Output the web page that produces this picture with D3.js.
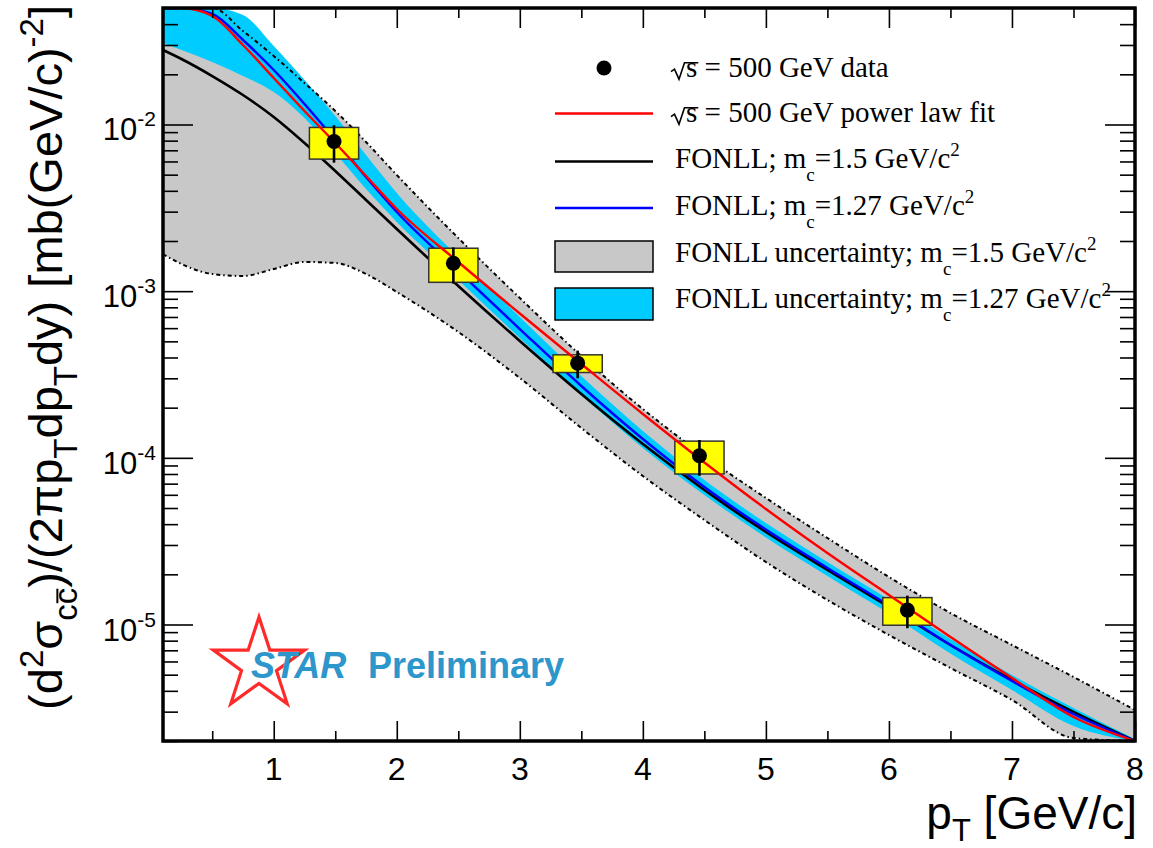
<!DOCTYPE html>
<html>
<head>
<meta charset="utf-8">
<script src="https://cdn.jsdelivr.net/npm/d3@7"></script>
<style>
  html, body { margin: 0; padding: 0; background: #fff; }
  svg { display: block; }
</style>
</head>
<body>
<svg id="chart" width="1153" height="848"></svg>
<script>
// pT grid (GeV/c) on which the curves and bands are tabulated
const pT = [0.1, 0.25, 0.5, 0.75, 1, 1.25, 1.5, 1.75, 2, 2.5, 3, 3.5, 4, 4.5, 5, 5.5, 6, 6.5, 7, 7.5, 8];

// power-law fit to the sqrt(s) = 500 GeV points
const powerLawFit = [0.1, 0.06, 0.04477, 0.02999, 0.01901, 0.01205, 0.007745, 0.004909, 0.003112, 1.496e-3,
  7.345e-4, 3.656e-4, 1.832e-4, 9.376e-5, 4.932e-5, 2.685e-5, 1.503e-5, 8.414e-6, 4.775e-6, 2.786e-6, 1.648e-6];

// FONLL central values, m_c = 1.5 and 1.27 GeV/c^2
const fonll15 = [0.02799, 0.02472, 0.01954, 0.01503, 0.01109, 0.007745, 0.005260, 0.003524, 0.002360, 1.074e-3,
  5.023e-4, 2.415e-4, 1.211e-4, 6.412e-5, 3.589e-5, 2.123e-5, 1.274e-5, 7.534e-6, 4.645e-6, 2.985e-6, 1.972e-6];
const fonll127 = [0.1, 0.065, 0.04603, 0.03214, 0.02123, 0.01327, 0.008072, 0.004842, 0.002985, 1.321e-3,
  5.929e-4, 2.698e-4, 1.297e-4, 6.683e-5, 3.715e-5, 2.183e-5, 1.300e-5, 7.534e-6, 4.581e-6, 2.904e-6, 1.892e-6];

// FONLL uncertainty bands
const fonll15Lo = [1.671e-3, 1.455e-3, 1.268e-3, 1.233e-3, 1.358e-3, 1.496e-3, 1.476e-3, 1.268e-3, 9.886e-4, 5.689e-4,
  3.013e-4, 1.510e-4, 7.780e-5, 4.236e-5, 2.371e-5, 1.403e-5, 8.650e-6, 5.483e-6, 3.524e-6, 2.084e-6, 1.340e-6];
const fonll15Hi = [0.12, 0.08, 0.05, 0.03639, 0.02576, 0.01774, 0.01205, 0.007852, 0.004977, 2.084e-3,
  9.099e-4, 4.083e-4, 1.963e-4, 1.026e-4, 5.741e-5, 3.304e-5, 1.928e-5, 1.172e-5, 7.534e-6, 4.842e-6, 3.069e-6];
const fonll127Lo = [0.03083, 0.02799, 0.02371, 0.01954, 0.01567, 0.01094, 0.006745, 0.004102, 0.002600, 1.167e-3,
  5.236e-4, 2.382e-4, 1.146e-4, 5.984e-5, 3.327e-5, 1.954e-5, 1.164e-5, 6.699e-6, 4.046e-6, 2.460e-6, 1.538e-6];
const fonll127Hi = [0.15, 0.12, 0.08, 0.04539, 0.02958, 0.01849, 0.01125, 0.006561, 0.003882, 1.603e-3,
  6.998e-4, 3.097e-4, 1.449e-4, 7.362e-5, 4.064e-5, 2.371e-5, 1.413e-5, 8.185e-6, 4.977e-6, 3.155e-6, 2.056e-6];

// measured points: pT, yield, statistical and systematic errors
const dataPt = [1.49, 2.46, 3.47, 4.46, 6.15];
const dataY = [7.9e-3, 1.47e-3, 3.70e-4, 1.03e-4, 1.22e-5];
const statErr = [2.0e-3, 3.6e-4, 7.0e-5, 2.5e-5, 2.7e-6];
const sysErr = [1.7e-3, 3.4e-4, 4.5e-5, 2.3e-5, 2.3e-6];
const binHalfWidth = 0.2;

// axis ticks
const xTickValues = [1, 2, 3, 4, 5, 6, 7, 8];
const xMinorValues = [0.5, 1.5, 2.5, 3.5, 4.5, 5.5, 6.5, 7.5];
const yExponents = [-2, -3, -4, -5];

const svg = d3.select('#chart');
const W = 1153, H = 848;
const plot = { left: 163, right: 1135, top: 8, bottom: 741 };

svg.append('rect').attr('width', W).attr('height', H).attr('fill', '#fff');

const x = d3.scaleLinear().domain([0.1, 8]).range([plot.left, plot.right]);
const y = d3.scaleLog().domain([2e-6, 0.05]).range([plot.bottom, plot.top]).clamp(true);

svg.append('clipPath').attr('id', 'plotClip')
  .append('rect')
  .attr('x', plot.left).attr('y', plot.top)
  .attr('width', plot.right - plot.left).attr('height', plot.bottom - plot.top);

const g = svg.append('g').attr('clip-path', 'url(#plotClip)');
const idx = d3.range(pT.length);

const band = (lo, hi) => d3.area()
  .x(i => x(pT[i])).y0(i => y(lo[i])).y1(i => y(hi[i]))
  .curve(d3.curveMonotoneX)(idx);
const curve = vals => d3.line()
  .x(i => x(pT[i])).y(i => y(vals[i]))
  .curve(d3.curveMonotoneX)(idx);

// uncertainty bands
g.append('path').attr('d', band(fonll15Lo, fonll15Hi)).attr('fill', '#c8c8c8');
g.append('path').attr('d', band(fonll127Lo, fonll127Hi)).attr('fill', '#00ccff');

// dash-dot edges of the m_c = 1.5 band
[fonll15Lo, fonll15Hi].forEach(v => {
  g.append('path').attr('d', curve(v)).attr('fill', 'none')
    .attr('stroke', '#000').attr('stroke-width', 2)
    .attr('stroke-dasharray', '4,3,1.5,3');
});

// FONLL central curves
g.append('path').attr('d', curve(fonll15)).attr('fill', 'none')
  .attr('stroke', '#000').attr('stroke-width', 2.6);
g.append('path').attr('d', curve(fonll127)).attr('fill', 'none')
  .attr('stroke', '#0000ff').attr('stroke-width', 2.4);

// systematic boxes
const dIdx = d3.range(dataPt.length);
g.selectAll('rect.sys').data(dIdx).enter().append('rect')
  .attr('class', 'sys')
  .attr('x', i => x(dataPt[i] - binHalfWidth))
  .attr('width', i => x(dataPt[i] + binHalfWidth) - x(dataPt[i] - binHalfWidth))
  .attr('y', i => y(dataY[i] + sysErr[i]))
  .attr('height', i => y(dataY[i] - sysErr[i]) - y(dataY[i] + sysErr[i]))
  .attr('fill', '#ffff00').attr('stroke', '#333').attr('stroke-width', 1.5);

// power-law fit
g.append('path').attr('d', curve(powerLawFit)).attr('fill', 'none')
  .attr('stroke', '#ff0000').attr('stroke-width', 2.4);

// statistical error bars and markers
g.selectAll('line.stat').data(dIdx).enter().append('line')
  .attr('x1', i => x(dataPt[i])).attr('x2', i => x(dataPt[i]))
  .attr('y1', i => y(dataY[i] + statErr[i])).attr('y2', i => y(dataY[i] - statErr[i]))
  .attr('stroke', '#000').attr('stroke-width', 2.6);
g.selectAll('circle.pt').data(dIdx).enter().append('circle')
  .attr('cx', i => x(dataPt[i])).attr('cy', i => y(dataY[i])).attr('r', 7.5)
  .attr('fill', '#000');

// ticks on all four sides
const yMajor = yExponents.map(e => Math.pow(10, e));
const yMinor = [];
for (let e = -6; e <= -2; e++) {
  for (let k = 2; k <= 9; k++) {
    const v = k * Math.pow(10, e);
    if (v >= 2e-6 && v <= 0.05) yMinor.push(v);
  }
}
const tickStyle = sel => {
  sel.select('.domain').remove();
  sel.selectAll('line').attr('stroke', '#000').attr('stroke-width', 1.6);
  sel.selectAll('text').remove();
};
const axes = svg.append('g');
axes.append('g').attr('transform', `translate(0,${plot.bottom})`)
  .call(d3.axisBottom(x).tickValues(xTickValues).tickSize(-20)).call(tickStyle);
axes.append('g').attr('transform', `translate(0,${plot.bottom})`)
  .call(d3.axisBottom(x).tickValues(xMinorValues).tickSize(-10)).call(tickStyle);
axes.append('g').attr('transform', `translate(0,${plot.top})`)
  .call(d3.axisTop(x).tickValues(xTickValues).tickSize(-20)).call(tickStyle);
axes.append('g').attr('transform', `translate(0,${plot.top})`)
  .call(d3.axisTop(x).tickValues(xMinorValues).tickSize(-10)).call(tickStyle);
axes.append('g').attr('transform', `translate(${plot.left},0)`)
  .call(d3.axisLeft(y).tickValues(yMajor).tickSize(-30)).call(tickStyle);
axes.append('g').attr('transform', `translate(${plot.left},0)`)
  .call(d3.axisLeft(y).tickValues(yMinor).tickSize(-15)).call(tickStyle);
axes.append('g').attr('transform', `translate(${plot.right},0)`)
  .call(d3.axisRight(y).tickValues(yMajor).tickSize(-30)).call(tickStyle);
axes.append('g').attr('transform', `translate(${plot.right},0)`)
  .call(d3.axisRight(y).tickValues(yMinor).tickSize(-15)).call(tickStyle);

// frame
svg.append('rect')
  .attr('x', plot.left).attr('y', plot.top)
  .attr('width', plot.right - plot.left).attr('height', plot.bottom - plot.top)
  .attr('fill', 'none').attr('stroke', '#000').attr('stroke-width', 3.5);

const SANS = "'Liberation Sans', Arial, Helvetica, sans-serif";
const SERIF = "'Liberation Serif', 'Times New Roman', serif";

// tick labels
svg.append('g').selectAll('text').data(xTickValues).enter().append('text')
  .attr('x', d => x(d)).attr('y', 780)
  .attr('text-anchor', 'middle')
  .attr('font-family', SANS).attr('font-size', 32).attr('fill', '#000')
  .text(d => d);

const yl = svg.append('g').selectAll('text').data(yExponents).enter().append('text')
  .attr('x', 156).attr('y', e => y(Math.pow(10, e)) + 16)
  .attr('text-anchor', 'end')
  .attr('font-family', SANS).attr('font-size', 31).attr('fill', '#000');
yl.append('tspan').text('10');
yl.append('tspan').attr('font-size', 21).attr('dy', -14).text(e => String(e));

// rich text helper: segments with optional sub/superscript
function rich(textSel, segs, subDy, supDy, smallSize) {
  let off = 0;
  segs.forEach(sg => {
    const target = sg.s === 'sub' ? subDy : sg.s === 'sup' ? supDy : 0;
    const ts = textSel.append('tspan').attr('dy', target - off).text(sg.t);
    if (sg.s) ts.attr('font-size', smallSize);
    off = target;
  });
}

// x-axis title
const xt = svg.append('text')
  .attr('x', 1137).attr('y', 829).attr('text-anchor', 'end')
  .attr('font-family', SANS).attr('font-size', 46).attr('fill', '#000');
rich(xt, [{ t: 'p' }, { t: 'T', s: 'sub' }, { t: ' [GeV/c]' }], 12, -18, 31);

// y-axis title
const ytG = svg.append('g').attr('transform', 'translate(62,5) rotate(-90)');
const yt = ytG.append('text')
  .attr('x', 0).attr('y', 0).attr('text-anchor', 'end')
  .attr('font-family', SANS).attr('font-size', 47).attr('fill', '#000');
rich(yt, [
  { t: '(d' }, { t: '2', s: 'sup' }, { t: 'σ' }, { t: 'cc', s: 'sub' },
  { t: ')/(2πp' }, { t: 'T', s: 'sub' }, { t: 'dp' }, { t: 'T', s: 'sub' },
  { t: 'dy) [mb(GeV/c)' }, { t: '-2', s: 'sup' }, { t: ']' }
], 15, -19, 33);
// bar over the anti-charm subscript
{
  const ext = yt.node().getExtentOfChar(5);
  const by = ext.y + ext.height * 0.28;
  ytG.append('line')
    .attr('x1', ext.x + 1).attr('x2', ext.x + ext.width - 1)
    .attr('y1', by).attr('y2', by)
    .attr('stroke', '#000').attr('stroke-width', 2);
}

// legend
const legend = svg.append('g');
const rowBase = [76.7, 121.7, 168.3, 215, 261.7, 308.3];
const LF = 29;
const symX0 = 555, symX1 = 653;

function sqrtRow(base, rest) {
  const sx = 686;
  const t = legend.append('text').attr('x', sx).attr('y', base)
    .attr('font-family', SERIF).attr('font-size', LF).attr('fill', '#000');
  t.append('tspan').text('s');
  t.append('tspan').text(rest);
  const sw = t.node().getSubStringLength(0, 1);
  legend.append('path')
    .attr('d', `M671,${base - 5} L674.5,${base - 7.5} L679,${base + 2.5} L684.5,${base - 14} L${sx + sw + 1},${base - 14}`)
    .attr('fill', 'none').attr('stroke', '#000').attr('stroke-width', 1.6);
}
function mcRow(base, prefix, mass) {
  const t = legend.append('text').attr('x', 675).attr('y', base)
    .attr('font-family', SERIF).attr('font-size', LF).attr('fill', '#000');
  rich(t, [{ t: prefix + 'm' }, { t: 'c', s: 'sub' }, { t: '=' + mass + ' GeV/c' }, { t: '2', s: 'sup' }], 13, -12, 19);
}

legend.append('circle').attr('cx', 604).attr('cy', 68).attr('r', 7.5).attr('fill', '#000');
sqrtRow(rowBase[0], ' = 500 GeV data');

legend.append('line').attr('x1', symX0).attr('x2', symX1).attr('y1', 113.5).attr('y2', 113.5)
  .attr('stroke', '#ff0000').attr('stroke-width', 2.4);
sqrtRow(rowBase[1], ' = 500 GeV power law fit');

legend.append('line').attr('x1', symX0).attr('x2', symX1).attr('y1', 161.5).attr('y2', 161.5)
  .attr('stroke', '#000').attr('stroke-width', 2.6);
mcRow(rowBase[2], 'FONLL; ', '1.5');

legend.append('line').attr('x1', symX0).attr('x2', symX1).attr('y1', 208).attr('y2', 208)
  .attr('stroke', '#0000ff').attr('stroke-width', 2.4);
mcRow(rowBase[3], 'FONLL; ', '1.27');

legend.append('rect').attr('x', symX0).attr('y', 241).attr('width', symX1 - symX0).attr('height', 31)
  .attr('fill', '#c8c8c8').attr('stroke', '#000').attr('stroke-width', 1.5);
mcRow(rowBase[4], 'FONLL uncertainty; ', '1.5');

legend.append('rect').attr('x', symX0).attr('y', 288).attr('width', symX1 - symX0).attr('height', 32)
  .attr('fill', '#00ccff').attr('stroke', '#000').attr('stroke-width', 1.5);
mcRow(rowBase[5], 'FONLL uncertainty; ', '1.27');

// STAR Preliminary logo
const star = svg.append('g');
const cx = 259, cy = 665, R = 48, r = 18.4;
const starPts = d3.range(10).map(k => {
  const a = -Math.PI / 2 + k * Math.PI / 5;
  const rad = k % 2 === 0 ? R : r;
  return [cx + rad * Math.cos(a), cy + rad * Math.sin(a)];
});
star.append('polygon').attr('points', starPts.map(p => p.join(',')).join(' '))
  .attr('fill', 'none').attr('stroke', '#ff2a2a').attr('stroke-width', 3.2)
  .attr('stroke-linejoin', 'miter');
star.append('text').attr('x', 251).attr('y', 678)
  .attr('font-family', SANS).attr('font-size', 36).attr('font-weight', 'bold').attr('font-style', 'italic')
  .attr('fill', '#2d96cb').text('STAR');
star.append('text').attr('x', 368).attr('y', 678)
  .attr('font-family', SANS).attr('font-size', 36).attr('font-weight', 'bold')
  .attr('fill', '#2d96cb').text('Preliminary');
</script>
</body>
</html>
